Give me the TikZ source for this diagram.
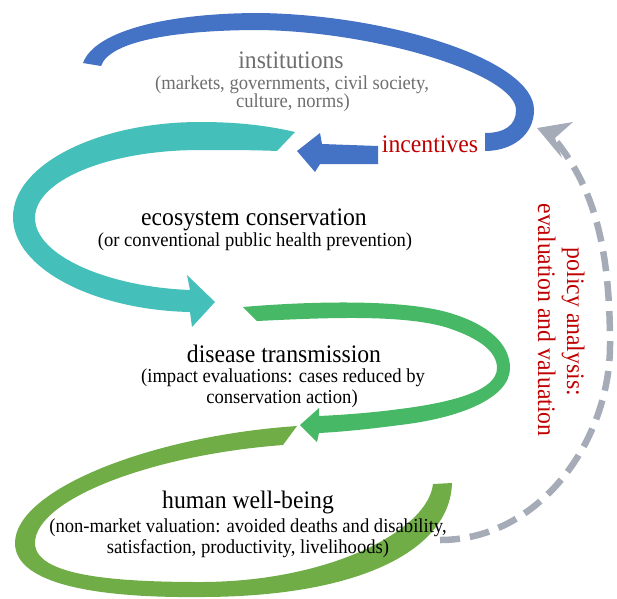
\documentclass[tikz,border=0pt]{standalone}
\usepackage{fontspec}
\setmainfont{Liberation Serif}[FakeStretch=0.94]
\usetikzlibrary{arrows.meta}
\definecolor{cblue}{HTML}{4472C4}
\definecolor{cteal}{HTML}{45BFB9}
\definecolor{cgreen}{HTML}{47B866}
\definecolor{colive}{HTML}{70AD47}
\definecolor{cgray}{HTML}{A5ACB8}
\definecolor{cred}{HTML}{C00000}
\definecolor{cgtext}{HTML}{6E6E6E}
\begin{document}
\begin{tikzpicture}[x=1pt,y=-1pt,
  lbl/.style={anchor=base, inner sep=0pt, font=\fontsize{25.2}{28}\selectfont},
  sublbl/.style={anchor=base, inner sep=0pt, font=\fontsize{19.8}{22}\selectfont},
  dasharc/.style={draw=cgray, line width=6.5pt, dash pattern=on 20pt off 10pt}]
\useasboundingbox (0,0) rectangle (617,598);
% blue band (institutions)
\fill[cblue] (83,63) .. controls (95,30) and (170,13) .. (260,13)
  .. controls (390,15) and (534,60) .. (534,110)
  .. controls (534,135) and (512,151) .. (485,151)
  -- (485,133)
  .. controls (505,133) and (516,125) .. (516,110)
  .. controls (516,75) and (380,32) .. (260,30)
  .. controls (180,30) and (110,40) .. (101,66) -- cycle;
% blue arrow (incentives)
\fill[cblue] (378,146) -- (322,144) -- (320,133) -- (297,151) -- (315,172) -- (320,164) -- (378,164) -- cycle;
% teal band (ecosystem conservation)
\fill[cteal] (295,132) .. controls (265,125) and (235,122) .. (200,122)
  .. controls (97,122) and (13,165) .. (13,217)
  .. controls (13,269) and (95,310) .. (190,312)
  -- (192,327) -- (215,302) -- (187,275) -- (190,290)
  .. controls (109,287) and (35,256) .. (35,218)
  .. controls (35,180) and (109,150) .. (200,150)
  .. controls (230,150) and (255,150) .. (277,151) -- cycle;
% green band (disease transmission)
\fill[cgreen] (243,307) .. controls (300,302) and (400,298) .. (450,313)
  .. controls (490,325) and (510,345) .. (510,368)
  .. controls (510,398) and (460,418) .. (400,425)
  .. controls (370,429) and (340,432) .. (319,433)
  -- (317,442) -- (300,425) -- (319,408) -- (319,416)
  .. controls (340,415) and (370,413) .. (400,409)
  .. controls (455,402) and (497,390) .. (497,368)
  .. controls (497,352) and (480,338) .. (445,327)
  .. controls (400,314) and (320,318) .. (257,321) -- cycle;
% olive band (human well-being)
\fill[colive] (297,426) .. controls (150,436) and (15,490) .. (15,543)
  .. controls (15,585) and (100,598) .. (200,597)
  .. controls (360,597) and (450,550) .. (452,483)
  -- (433,484)
  .. controls (428,530) and (330,582) .. (200,582)
  .. controls (110,582) and (35,575) .. (35,543)
  .. controls (35,500) and (150,455) .. (283,445) -- cycle;
% dashed feedback arrow
\coordinate (dstart) at (440,540);
\coordinate (dend) at (556,141);
\draw[dasharc] (dstart) .. controls (540,540) and (610,440) .. (610,345)
  .. controls (610,250) and (595,190) .. (dend);
\fill[cgray] (537,128) -- (573,122) -- (555,138) -- (562,158) -- cycle;
% texts
\node[lbl, text=cgtext] (inst) at (291,68) {institutions};
\node[sublbl, text=cgtext] (inst1) at (292,89) {(markets, governments, civil society,};
\node[sublbl, text=cgtext] (inst2) at (293,107) {culture, norms)};
\node[lbl, text=cred] (incent) at (430,152) {incentives};
\node[lbl] (eco) at (254,225) {ecosystem conservation};
\node[sublbl] (eco1) at (255,246) {(or conventional public health prevention)};
\node[lbl] (dis) at (284,362) {disease transmission};
\node[sublbl] (dis1) at (283,382) {(impact evaluations: cases reduced by};
\node[sublbl] (dis2) at (282,403) {conservation action)};
\node[lbl] (hum) at (248,508) {human well-being};
\node[sublbl] (hum1) at (248,532) {(non-market valuation: avoided deaths and disability,};
\node[sublbl] (hum2) at (248,553) {satisfaction, productivity, livelihoods)};
\node[lbl, text=cred, rotate=-90] (pol1) at (567,322) {policy analysis:};
\node[lbl, text=cred, rotate=-90] (pol2) at (538,320) {evaluation and valuation};
\end{tikzpicture}
\end{document}
